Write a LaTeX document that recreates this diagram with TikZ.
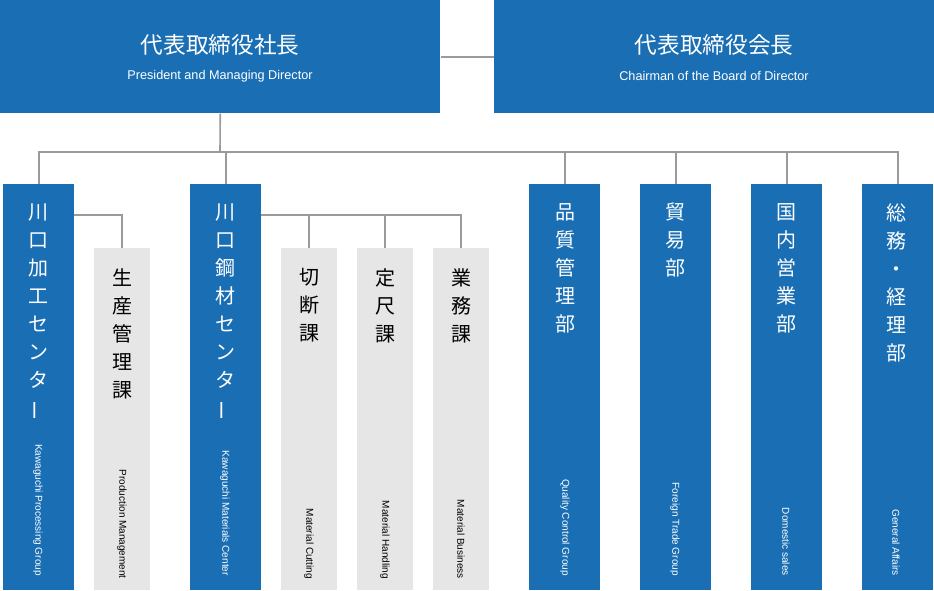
\documentclass[tikz,border=0pt]{standalone}
\usepackage{fontspec}
\setmainfont{Liberation Sans}
\newfontfamily\jp{Noto Sans CJK JP}
\usetikzlibrary{positioning}
\definecolor{deptblue}{HTML}{1A6FB4}
\definecolor{sectgray}{HTML}{E6E6E6}
\definecolor{wiregray}{HTML}{9A9A9A}
\newcommand{\vchoon}{\rotatebox[origin=c]{90}{ー}}
\tikzset{
  boss/.style={fill=deptblue, minimum width=330pt, minimum height=84.75pt, anchor=north west, inner sep=0pt},
  dept/.style={fill=deptblue, minimum width=53.25pt, minimum height=304.5pt, anchor=north west, inner sep=0pt},
  sect/.style={fill=sectgray, minimum width=42pt, minimum height=256.5pt, anchor=north west, inner sep=0pt},
  jname/.style={anchor=north, align=center, inner sep=0pt, font=\jp\fontsize{15}{21}\selectfont},
  ename/.style={rotate=-90, anchor=east, inner sep=0pt, font=\fontsize{7.5}{9}\selectfont},
  wire/.style={draw=wiregray, line width=1.2pt}
}
\begin{document}
\begin{tikzpicture}[x=0.75pt, y=-0.75pt]
\useasboundingbox (0,0) rectangle (934,590);
% top boxes
\node[boss] (president) at (0,0) {};
\node[boss] (chairman) at (494,0) {};
\node[white, font=\jp\fontsize{17}{20}\selectfont] at (220,45) {代表取締役社長};
\node[white, font=\fontsize{9.5}{11}\selectfont] at (220,76) {President and Managing Director};
\node[white, font=\jp\fontsize{17}{20}\selectfont] at (714,45) {代表取締役会長};
\node[white, font=\fontsize{9.5}{11}\selectfont] at (714,76) {Chairman of the Board of Director};

% departments
\node[dept] (processing) at (3,184) {};
\node[dept] (materials) at (190,184) {};
\node[dept] (quality) at (529,184) {};
\node[dept] (trade) at (640,184) {};
\node[dept] (domestic) at (751,184) {};
\node[dept] (affairs) at (862,184) {};

% sections
\node[sect] (production) at (94,248) {};
\node[sect] (cutting) at (281,248) {};
\node[sect] (handling) at (357,248) {};
\node[sect] (business) at (433,248) {};

% japanese names
\begin{scope}[white]
\node[jname] at (38,203) {川\\口\\加\\工\\セ\\ン\\タ\\\vchoon};
\node[jname] at (225,203) {川\\口\\鋼\\材\\セ\\ン\\タ\\\vchoon};
\node[jname] at (565,203) {品\\質\\管\\理\\部};
\node[jname] at (675,203) {貿\\易\\部};
\node[jname] at (786,203) {国\\内\\営\\業\\部};
\node[jname] at (896,203) {総\\務\\・\\経\\理\\部};
\end{scope}
\node[jname] at (122,268) {生\\産\\管\\理\\課};
\node[jname] at (309,268) {切\\断\\課};
\node[jname] at (385,268) {定\\尺\\課};
\node[jname] at (461,268) {業\\務\\課};

% english names
\begin{scope}[white]
\node[ename] at (38,576) {Kawaguchi Processing Group};
\node[ename] at (225,576) {Kawaguchi Materials Center};
\node[ename] at (565,576) {Quality Control Group};
\node[ename] at (675,576) {Foreign Trade Group};
\node[ename] at (786,576) {Domestic sales};
\node[ename] at (896,576) {General Affairs};
\end{scope}
\node[ename] at (122,579) {Production Management};
\node[ename] at (309,579) {Material Cutting};
\node[ename] at (385,579) {Material Handling};
\node[ename] at (461,579) {Material Business};

% draw wires
\coordinate (bus) at (220,152);
\coordinate (subA) at (74,215);
\coordinate (subB) at (261,215);
\draw[wire] (president.east) -- (chairman.west);
\draw[wire] (president.south) -- (bus);
\draw[wire] (processing.north) |- (bus) -| (affairs.north);
\foreach \d in {materials, quality, trade, domestic}
  \draw[wire] (\d.north) -- (\d.north |- bus);
\draw[wire] (subA) -| (production.north);
\draw[wire] (subB) -| (business.north);
\foreach \s in {cutting, handling}
  \draw[wire] (\s.north) -- (\s.north |- subB);
\end{tikzpicture}
\end{document}
